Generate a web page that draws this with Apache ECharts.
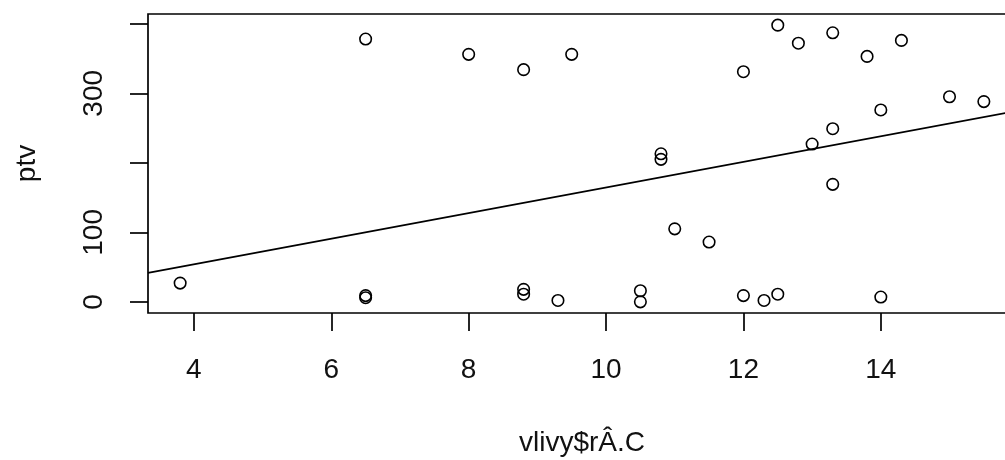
<!DOCTYPE html>
<html>
<head>
<meta charset="utf-8">
<script src="https://cdn.jsdelivr.net/npm/echarts@6/dist/echarts.min.js"></script>
<style>
html,body{margin:0;padding:0;background:#fff;}
#chart{width:1005px;height:460px;}
</style>
</head>
<body>
<div id="chart"></div>
<script>
// Data
const xVals = [3.8, 6.5, 6.5, 6.5, 8.0, 8.8, 8.8, 8.8, 9.3, 9.5, 10.5, 10.5, 10.8, 10.8, 11.0, 11.5, 12.0, 12.0, 12.3, 12.5, 12.5, 12.8, 13.0, 13.3, 13.3, 13.3, 13.8, 14.0, 14.0, 14.3, 15.0, 15.5];
const yVals = [27, 378, 9, 6, 356, 334, 18, 11, 2, 356, 16, 0, 213, 205, 105, 86, 331, 9, 2, 398, 11, 372, 227, 387, 249, 169, 353, 276, 7, 376, 295, 288];
const xTicks = [4, 6, 8, 10, 12, 14];
const yTicks = [0, 100, 200, 300, 400];
const yLabels = [0, 100, 300];
const fitIntercept = -19.8;
const fitSlope = 18.43;
const xName = 'vlivy$rÂ.C';
const yName = 'ptv';

const xMin = 3.332, xMax = 15.968, yMin = -16, yMax = 414;
const points = xVals.map((x, i) => [x, yVals[i]]);
const fitLine = [[xMin, fitIntercept + fitSlope * xMin], [xMax, fitIntercept + fitSlope * xMax]];

const font = 'Liberation Sans, Arial, sans-serif';
const chart = echarts.init(document.getElementById('chart'));
chart.setOption({
  animation: false,
  backgroundColor: '#fff',
  grid: {
    left: 148, top: 14, width: 868, height: 299,
    show: true, borderColor: '#000', borderWidth: 1.7, backgroundColor: 'transparent',
    outerBoundsMode: 'none', containLabel: false
  },
  xAxis: {
    type: 'value', min: xMin, max: xMax,
    name: xName, nameLocation: 'middle', nameGap: 116,
    nameTextStyle: { fontFamily: font, fontSize: 28, color: '#111' },
    axisLine: { show: false, onZero: false },
    splitLine: { show: false },
    axisTick: { show: true, inside: false, length: 18, customValues: xTicks, lineStyle: { color: '#000', width: 1.7 } },
    axisLabel: { show: true, customValues: xTicks, margin: 43, fontFamily: font, fontSize: 28, color: '#111' }
  },
  yAxis: {
    type: 'value', min: yMin, max: yMax,
    name: yName, nameLocation: 'middle', nameGap: 107,
    nameTextStyle: { fontFamily: font, fontSize: 28, color: '#111' },
    axisLine: { show: false, onZero: false },
    splitLine: { show: false },
    axisTick: { show: true, inside: false, length: 18, customValues: yTicks, lineStyle: { color: '#000', width: 1.7 } },
    axisLabel: { show: true, customValues: yLabels, rotate: 90, margin: 40, fontFamily: font, fontSize: 28, color: '#111' }
  },
  series: [
    {
      type: 'scatter', data: points, symbol: 'circle', symbolSize: 11.5,
      itemStyle: { color: 'rgba(0,0,0,0)', borderColor: '#000', borderWidth: 1.6, opacity: 1 },
      silent: true
    },
    {
      type: 'line', data: fitLine, symbol: 'none', clip: true,
      lineStyle: { color: '#000', width: 1.7 }, silent: true
    }
  ]
});
</script>
</body>
</html>
